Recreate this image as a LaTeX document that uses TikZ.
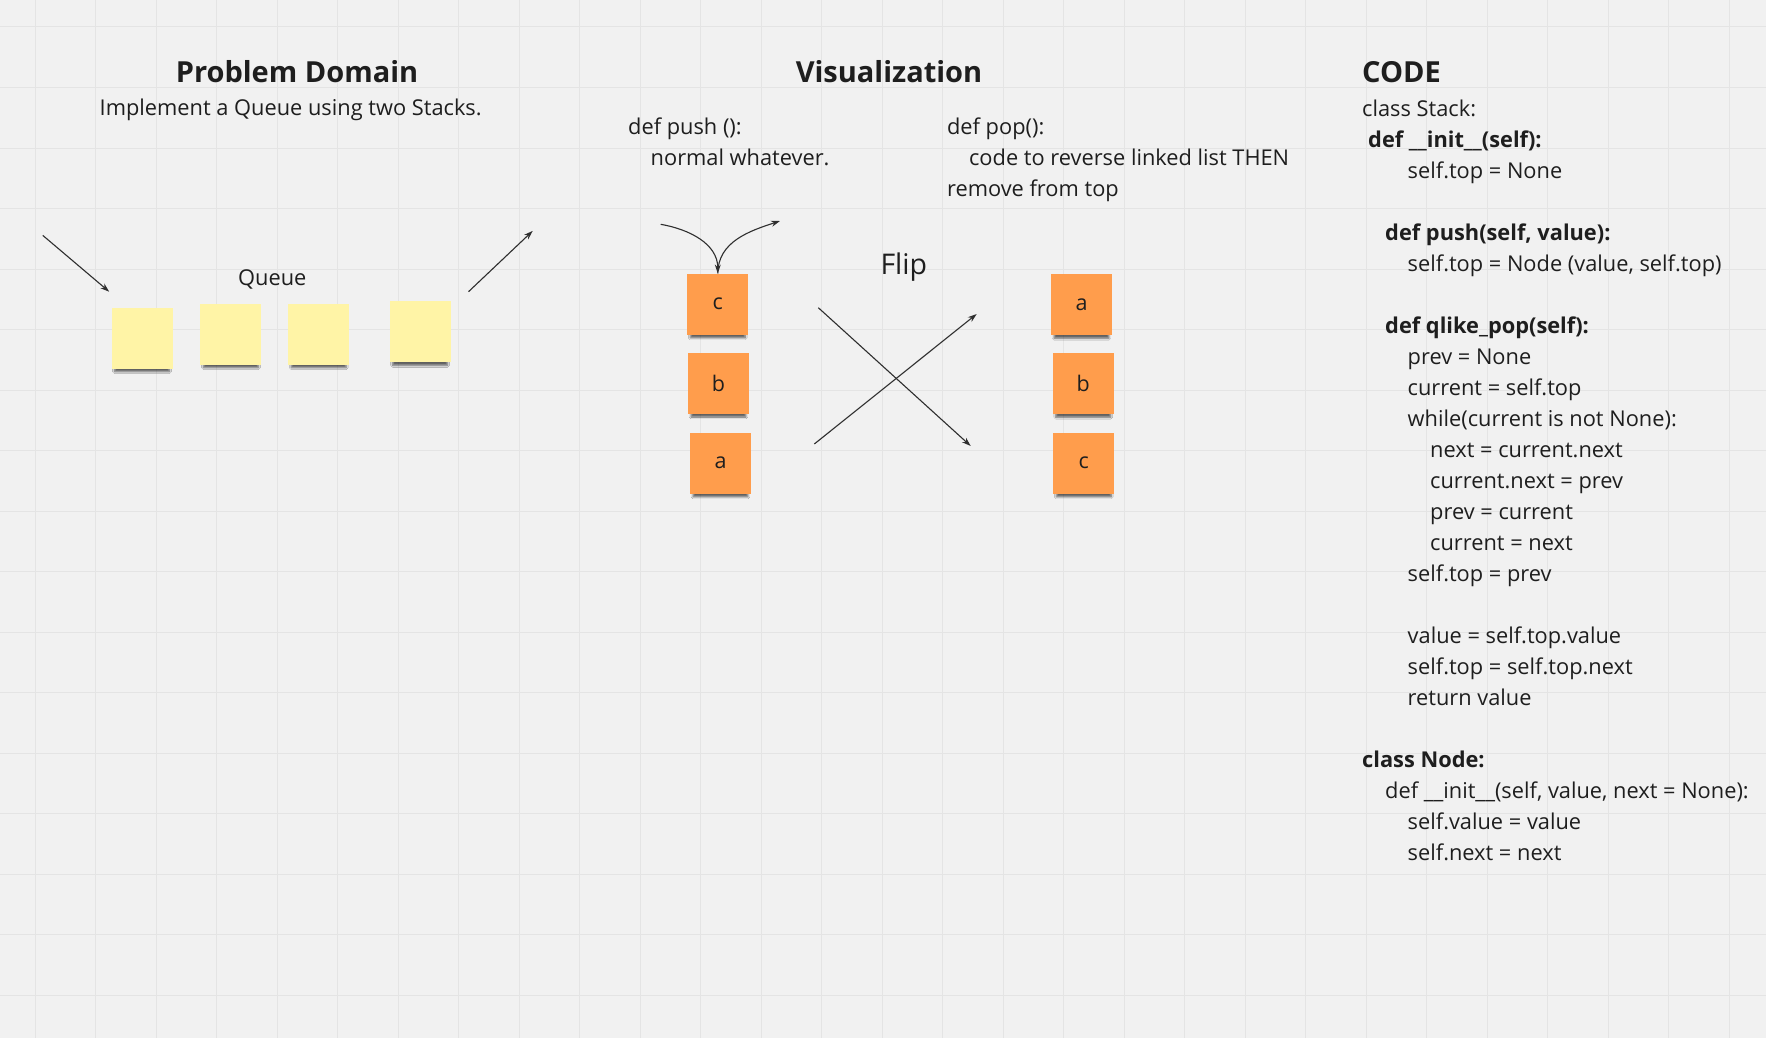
\documentclass[tikz,border=0pt]{standalone}
\usepackage{fontspec}
\setmainfont{Open Sans}
\usetikzlibrary{arrows.meta,shadows.blur}

\definecolor{boardbg}{HTML}{F1F1F1}
\definecolor{gridgray}{HTML}{E4E4E4}
\definecolor{noteyellow}{HTML}{FFF4A6}
\definecolor{noteorange}{HTML}{FF9D4C}
\definecolor{inkgray}{HTML}{1E1E1E}
\definecolor{linegray}{HTML}{2E2E2E}

\begin{document}
\begin{tikzpicture}[
		x=1pt, y=-1pt,
		gridline/.style={draw=gridgray, line width=1pt},
		sticky/.style={minimum width=61pt, minimum height=61pt, inner sep=0pt,
			blur shadow={shadow xshift=0pt, shadow yshift=-7pt, shadow scale=0.9,
				shadow blur steps=6, shadow opacity=60}},
		yellownote/.style={sticky, fill=noteyellow},
		orangenote/.style={sticky, fill=noteorange, text=inkgray,
			font=\fontsize{21.5}{25}\selectfont},
		title/.style={inner sep=0pt, text=inkgray, font=\bfseries\fontsize{29}{34}\selectfont},
		body/.style={inner sep=0pt, text=inkgray, align=left, font=\fontsize{21.8}{31}\selectfont},
		arr/.style={draw=linegray, line width=1.1pt, -{Stealth[length=9pt,width=6pt]}}]

		% board
		\useasboundingbox[fill=boardbg] (0,0) rectangle (1766,1038);
		\foreach \gx in {0,...,28}
			\draw[gridline] ({35.2+60.5*\gx},0) -- ++(0,1038);
		\foreach \gy in {0,...,16}
			\draw[gridline] (0,{27+60.5*\gy}) -- ++(1766,0);

		% problem domain
		\node[title, anchor=base] (pdtitle) at (297,82.3) {Problem Domain};
		\node[body, anchor=base] (pdtext) at (290.7,116) {Implement a Queue using two Stacks.};
		\node[body, anchor=base] (queue) at (272.3,285) {Queue};

		\node[yellownote] (q1) at (142,338) {};
		\node[yellownote] (q2) at (230.9,334) {};
		\node[yellownote] (q3) at (318.7,334) {};
		\node[yellownote] (q4) at (420.1,331.7) {};

		\coordinate (qinA) at (42.8,235.4);
		\coordinate (qinB) at (109.2,291.7);
		\coordinate (qoutA) at (468.5,291.7);
		\coordinate (qoutB) at (532.7,230.9);
		\draw[arr] (qinA) -- (qinB);
		\draw[arr] (qoutA) -- (qoutB);

		% visualization (base = last line)
		\node[title, anchor=base] (vistitle) at (889,82.3) {Visualization};
		\node[body, anchor=base west] (pushtxt) at (628,165.5)
			{def push ():\\\hspace*{22.5pt}normal whatever.};
		\node[body, anchor=base west] (poptxt) at (946.9,196.5)
			{def pop():\\\hspace*{22pt}code to reverse linked list THEN\\remove from top};
		\node[anchor=base, inner sep=0pt, text=inkgray, font=\fontsize{28.5}{33}\selectfont]
			(flip) at (903.8,274) {Flip};

		\node[orangenote] (lc) at (717.8,304.2) {c};
		\node[orangenote] (lb) at (718.5,383.3) {b};
		\node[orangenote] (la) at (720.5,463.2) {a};
		\node[orangenote] (ra) at (1081.5,304.5) {a};
		\node[orangenote] (rb) at (1083.2,383.5) {b};
		\node[orangenote] (rc) at (1083.8,463.2) {c};

		\coordinate (pushin) at (660.7,224.3);
		\coordinate (popout) at (780,221);
		\draw[arr] (pushin) to[out=-10, in=90] (lc.north);
		\draw[arr] (lc.north) to[out=90, in=198] (popout);

		\coordinate (flipA) at (818.3,307.7);
		\coordinate (flipB) at (970.7,446);
		\coordinate (flipC) at (814.3,444);
		\coordinate (flipD) at (976.7,314);
		\draw[arr] (flipA) -- (flipB);
		\draw[arr] (flipC) -- (flipD);

		% code (base = last line)
		\node[title, anchor=base west] (codetitle) at (1362,82.7) {CODE};
		\node[body, anchor=base west] (code) at (1362,860) {%
			class Stack:\\
			\hspace*{6pt}\textbf{def \_\_init\_\_(self):}\\
			\hspace*{45.5pt}self.top = None\\
			~\\
			\hspace*{23pt}\textbf{def push(self, value):}\\
			\hspace*{45.5pt}self.top = Node (value, self.top)\\
			~\\
			\hspace*{23pt}\textbf{def qlike\_pop(self):}\\
			\hspace*{45.5pt}prev = None\\
			\hspace*{45.5pt}current = self.top\\
			\hspace*{45.5pt}while(current is not None):\\
			\hspace*{68pt}next = current.next\\
			\hspace*{68pt}current.next = prev\\
			\hspace*{68pt}prev = current\\
			\hspace*{68pt}current = next\\
			\hspace*{45.5pt}self.top = prev\\
			~\\
			\hspace*{45.5pt}value = self.top.value\\
			\hspace*{45.5pt}self.top = self.top.next\\
			\hspace*{45.5pt}return value\\
			~\\
			\textbf{class Node:}\\
			\hspace*{23pt}def \_\_init\_\_(self, value, next = None):\\
			\hspace*{45.5pt}self.value = value\\
			\hspace*{45.5pt}self.next = next};

\end{tikzpicture}
\end{document}
